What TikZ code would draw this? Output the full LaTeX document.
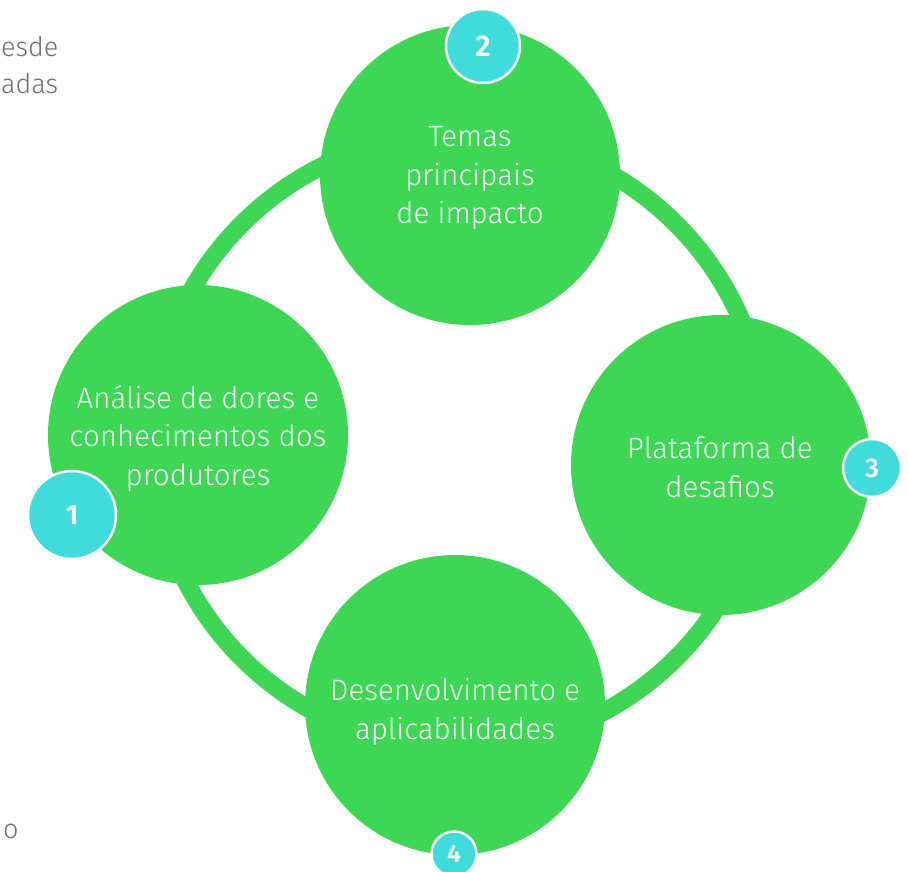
\documentclass[tikz,border=0pt]{standalone}
\usepackage{fontspec}
\setmainfont{Fira Sans Light}
\newfontfamily\badgefont{Fira Sans SemiBold}
\definecolor{ringgreen}{HTML}{3DD655}
\definecolor{badgecyan}{HTML}{40DCDC}
\definecolor{graytext}{HTML}{707070}
\tikzset{
  bubble/.style={circle, fill=ringgreen, minimum size=300pt, inner sep=0pt},
  bubbletext/.style={text=white, align=center, font=\fontsize{29.5}{38.5}\selectfont},
  badge/.style={circle, fill=badgecyan, draw=white, line width=2.5pt, inner sep=0pt, text=white, font=\badgefont\fontsize{30}{30}\selectfont},
  ring/.style={draw=ringgreen, line width=18pt},
  cut/.style={text=graytext, font=\fontsize{27}{30}\selectfont, inner sep=0pt}
}
\begin{document}
\begin{tikzpicture}[x=1pt,y=-1pt]
\useasboundingbox (0,0) rectangle (908,871);
\clip (0,0) rectangle (908,871);
\fill[white] (0,0) rectangle (908,871);
% ring
\coordinate (rc) at (459,441);
\draw[ring] (rc) circle[radius=307pt];
% bubbles
\node[bubble] (top) at (470,175) {};
\node[bubble] (left) at (198,435) {};
\node[bubble] (right) at (721,465) {};
\node[bubble] (bottom) at (455,705) {};
% texts
\node[bubbletext] (ttop) at (470,178) {Temas\\principais\\de impacto};
\node[bubbletext] (tleft) at (198,438) {Análise de dores e\\conhecimentos dos\\produtores};
\node[bubbletext] (tright) at (720,467) {Plataforma de\\desafios};
\node[bubbletext] (tbottom) at (455,712) {Desenvolvimento e\\aplicabilidades};
% badges
\node[badge, minimum size=74pt] (b2) at (483,46) {2};
\node[badge, minimum size=88pt, font=\badgefont\fontsize{28}{28}\selectfont] (b1) at (72,515) {1};
\node[badge, minimum size=58pt, font=\badgefont\fontsize{27}{27}\selectfont] (b3) at (872,468) {3};
\node[badge, minimum size=45pt, font=\badgefont\fontsize{25}{25}\selectfont] (b4) at (454,854) {4};
% cut-off slide text
\node[cut, anchor=base west] (c1) at (1,56) {esde};
\node[cut, anchor=base west] (c2) at (1,93) {adas};
\node[cut, anchor=base west] (c3) at (3,838) {o};
\end{tikzpicture}
\end{document}
